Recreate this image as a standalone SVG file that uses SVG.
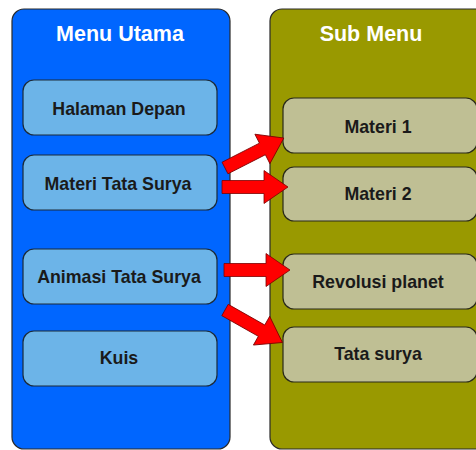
<svg xmlns="http://www.w3.org/2000/svg" width="476" height="450" viewBox="0 0 476 450">
<defs>
<style>
.panel{stroke:#2a2a2a;stroke-width:1.2}
.blue{fill:#0066ff}
.olive{fill:#999900}
.lbox{fill:#6cb4e8;stroke:#1c2a38;stroke-width:1.2}
.rbox{fill:#bfbf94;stroke:#2a2a1a;stroke-width:1.2}
.title{font-family:"Liberation Sans",Arial,sans-serif;font-weight:bold;font-size:21.5px;fill:#ffffff;text-anchor:middle}
.lbl{font-family:"Liberation Sans",Arial,sans-serif;font-weight:bold;font-size:17.8px;fill:#1a1a1a;text-anchor:middle}
.arrow{fill:#ff0000;stroke:#7a0000;stroke-width:0.8}
</style>
<polygon id="arr" points="0,-6.5 42,-6.5 42,-16.5 66,0 42,16.5 42,6.5 0,6.5"/>
</defs>
<g id="menu-utama">
<rect class="panel blue" x="12" y="9" width="218" height="440" rx="12"/>
<text class="title" x="120" y="41">Menu Utama</text>
</g>
<g id="sub-menu">
<rect class="panel olive" x="270" y="9" width="220" height="440" rx="12"/>
<text class="title" x="371" y="41">Sub Menu</text>
</g>
<g id="halaman-depan">
<rect class="lbox" x="23" y="80" width="194" height="55" rx="11"/>
<text class="lbl" x="119" y="115">Halaman Depan</text>
</g>
<g id="materi-tata-surya">
<rect class="lbox" x="23" y="155" width="194" height="55" rx="11"/>
<text class="lbl" x="118" y="190">Materi Tata Surya</text>
</g>
<g id="animasi-tata-surya">
<rect class="lbox" x="23" y="249" width="194" height="55" rx="11"/>
<text class="lbl" x="119" y="283">Animasi Tata Surya</text>
</g>
<g id="kuis">
<rect class="lbox" x="23" y="331" width="194" height="55" rx="11"/>
<text class="lbl" x="119" y="364">Kuis</text>
</g>
<g id="materi-1">
<rect class="rbox" x="283" y="98" width="194" height="55" rx="11"/>
<text class="lbl" x="378" y="133">Materi 1</text>
</g>
<g id="materi-2">
<rect class="rbox" x="283" y="167" width="194" height="54" rx="11"/>
<text class="lbl" x="378" y="200">Materi 2</text>
</g>
<g id="revolusi-planet">
<rect class="rbox" x="283" y="254" width="194" height="55" rx="11"/>
<text class="lbl" x="378" y="288">Revolusi planet</text>
</g>
<g id="tata-surya">
<rect class="rbox" x="283" y="327" width="194" height="55" rx="11"/>
<text class="lbl" x="378" y="360">Tata surya</text>
</g>
<g id="connectors">
<use href="#arr" class="arrow" transform="translate(225,168) rotate(-27)"/>
<use href="#arr" class="arrow" transform="translate(222,187)"/>
<use href="#arr" class="arrow" transform="translate(224,270)"/>
<use href="#arr" class="arrow" transform="translate(225,310) rotate(29.5)"/>
</g>
</svg>
